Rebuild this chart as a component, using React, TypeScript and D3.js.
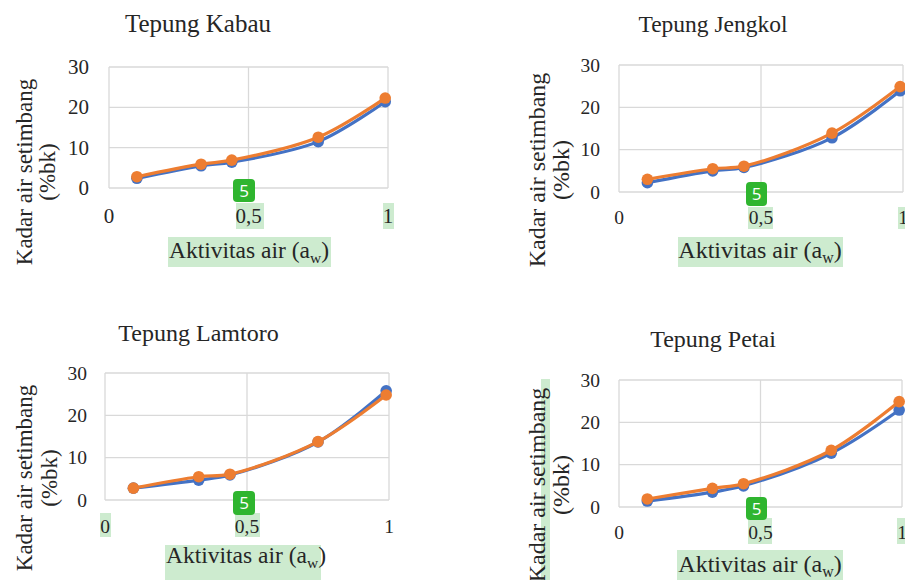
import React from "react";
import * as d3 from "d3";

// ---------- data ----------
const aw = [0.1, 0.33, 0.44, 0.75, 0.99];
const yTicks = [0, 10, 20, 30];
const xTicks = [0, 0.5, 1];
const xTickLabels = ["0", "0,5", "1"];
const titles = ["Tepung Kabau", "Tepung Jengkol", "Tepung Lamtoro", "Tepung Petai"];

const kabauBlue = [2.4, 5.5, 6.4, 11.5, 21.4];
const kabauOrange = [2.8, 5.9, 6.9, 12.6, 22.3];
const jengkolBlue = [2.2, 5.0, 5.8, 12.8, 23.9];
const jengkolOrange = [3.0, 5.5, 6.1, 13.9, 24.9];
const lamtoroBlue = [2.8, 4.7, 5.9, 13.7, 25.8];
const lamtoroOrange = [2.8, 5.5, 6.1, 13.8, 24.8];
const petaiBlue = [1.4, 3.5, 5.0, 12.7, 22.9];
const petaiOrange = [1.9, 4.4, 5.5, 13.4, 24.9];

const xLabel = "Aktivitas air (a";
const xLabelSub = "w";
const yLabel1 = "Kadar air setimbang";
const yLabel2 = "(%bk)";
const badgeText = "5";

// ---------- layout ----------
type Rect = [number, number, number, number];
interface Cfg {
  title: string;
  blue: number[];
  orange: number[];
  x0: number; x1: number; yb: number; yt: number;
  titleX: number; titleY: number; titleSize: number;
  tickSize: number; yTickRight: number; xTickY: number;
  xLabelX: number; xLabelY: number; xLabelSize: number;
  yl1X: number; yl2X: number; ylY: number; ylSize: number;
  badge: Rect;
  highlights: Rect[];
}

const panels: Cfg[] = [
  {
    title: titles[0], blue: kabauBlue, orange: kabauOrange,
    x0: 109, x1: 388, yb: 188, yt: 67,
    titleX: 198, titleY: 32, titleSize: 25,
    tickSize: 21, yTickRight: 89, xTickY: 223,
    xLabelX: 249, xLabelY: 258, xLabelSize: 23.5,
    yl1X: 32, yl2X: 55, ylY: 172, ylSize: 23,
    badge: [233, 179, 22, 23],
    highlights: [[236, 203, 28, 26], [383, 203, 11, 26], [168, 237, 163, 30]],
  },
  {
    title: titles[1], blue: jengkolBlue, orange: jengkolOrange,
    x0: 619, x1: 903, yb: 192, yt: 65,
    titleX: 713, titleY: 32, titleSize: 23.5,
    tickSize: 19.5, yTickRight: 600, xTickY: 224,
    xLabelX: 760, xLabelY: 258, xLabelSize: 24,
    yl1X: 545, yl2X: 569, ylY: 170, ylSize: 24,
    badge: [746, 182, 21, 24],
    highlights: [[748, 207, 25, 22], [898, 207, 7, 22], [678, 237, 165, 30]],
  },
  {
    title: titles[2], blue: lamtoroBlue, orange: lamtoroOrange,
    x0: 105, x1: 389, yb: 500, yt: 373,
    titleX: 198.5, titleY: 341, titleSize: 24,
    tickSize: 19.5, yTickRight: 87, xTickY: 533,
    xLabelX: 246, xLabelY: 563, xLabelSize: 23.5,
    yl1X: 32, yl2X: 57, ylY: 478, ylSize: 23,
    badge: [233, 491, 22, 24],
    highlights: [[100, 513, 11, 24], [235, 513, 25, 24], [165, 545, 156, 35]],
  },
  {
    title: titles[3], blue: petaiBlue, orange: petaiOrange,
    x0: 619, x1: 902, yb: 507, yt: 380,
    titleX: 713, titleY: 347, titleSize: 24,
    tickSize: 19.5, yTickRight: 600, xTickY: 539,
    xLabelX: 760, xLabelY: 572, xLabelSize: 24,
    yl1X: 545, yl2X: 569, ylY: 485, ylSize: 24,
    badge: [746, 497, 21, 23],
    highlights: [[748, 518, 24, 26], [897, 518, 8, 26], [677, 550, 166, 30], [541, 379, 9, 201]],
  },
];

const BLUE = "#4472C4";
const ORANGE = "#ED7D31";
const GRID = "#d9d9d9";
const HL = "#cdebcf";
const TEXT = "#262626";
const FONT = "'Liberation Serif', serif";

function Panel({ c }: { c: Cfg }) {
  const x = d3.scaleLinear().domain([0, 1]).range([c.x0, c.x1]);
  const y = d3.scaleLinear().domain([0, 30]).range([c.yb, c.yt]);
  const line = d3
    .line<number>()
    .x((_, i) => x(aw[i]))
    .y((d) => y(d))
    .curve(d3.curveCatmullRom.alpha(0.5));

  const series = [
    { vals: c.blue, color: BLUE },
    { vals: c.orange, color: ORANGE },
  ];

  return (
    <g>
      {c.highlights.map((h, i) => (
        <rect key={"h" + i} x={h[0]} y={h[1]} width={h[2]} height={h[3]} fill={HL} />
      ))}
      {/* grid */}
      {yTicks.map((t) => (
        <line key={"gy" + t} x1={c.x0} x2={c.x1} y1={y(t)} y2={y(t)} stroke={GRID} strokeWidth={1.3} />
      ))}
      {xTicks.map((t) => (
        <line key={"gx" + t} x1={x(t)} x2={x(t)} y1={c.yt} y2={c.yb} stroke={GRID} strokeWidth={1.3} />
      ))}
      {/* series */}
      {series.map((s, si) => (
        <g key={"s" + si}>
          <path d={line(s.vals) || ""} fill="none" stroke={s.color} strokeWidth={3.2} strokeLinejoin="round" />
          {s.vals.map((v, i) => (
            <circle key={i} cx={x(aw[i])} cy={y(v)} r={5.8} fill={s.color} />
          ))}
        </g>
      ))}
      {/* y ticks */}
      {yTicks.map((t) => (
        <text key={"ty" + t} x={c.yTickRight} y={y(t)} dy="0.34em" textAnchor="end"
          fontFamily={FONT} fontSize={c.tickSize} fill={TEXT}>{t}</text>
      ))}
      {/* x ticks */}
      {xTicks.map((t, i) => (
        <text key={"tx" + t} x={x(t)} y={c.xTickY} textAnchor="middle"
          fontFamily={FONT} fontSize={c.tickSize} fill={TEXT}>{xTickLabels[i]}</text>
      ))}
      {/* title */}
      <text x={c.titleX} y={c.titleY} textAnchor="middle" fontFamily={FONT} fontSize={c.titleSize} fill={TEXT}>
        {c.title}
      </text>
      {/* x label */}
      <text x={c.xLabelX} y={c.xLabelY} textAnchor="middle" fontFamily={FONT} fontSize={c.xLabelSize} fill={TEXT}>
        <tspan>{xLabel}</tspan>
        <tspan fontSize={c.xLabelSize * 0.66} dy={5}>{xLabelSub}</tspan>
        <tspan dy={-5}>)</tspan>
      </text>
      {/* y label */}
      <text transform={`translate(${c.yl1X},${c.ylY}) rotate(-90)`} textAnchor="middle"
        fontFamily={FONT} fontSize={c.ylSize} fill={TEXT}>{yLabel1}</text>
      <text transform={`translate(${c.yl2X},${c.ylY}) rotate(-90)`} textAnchor="middle"
        fontFamily={FONT} fontSize={c.ylSize} fill={TEXT}>{yLabel2}</text>
      {/* badge */}
      <rect x={c.badge[0]} y={c.badge[1]} width={c.badge[2]} height={c.badge[3]} rx={4} fill="#2fb52f" />
      <text x={c.badge[0] + c.badge[2] / 2} y={c.badge[1] + c.badge[3] / 2} dy="0.36em" textAnchor="middle"
        fontFamily="'Open Sans', 'Noto Sans', sans-serif" fontSize={17} fill="#ffffff">{badgeText}</text>
    </g>
  );
}

export default function App() {
  return (
    <svg width={905} height={580} viewBox="0 0 905 580"
      style={{ position: "absolute", left: 0, top: 0, background: "#ffffff" }}>
      <rect x={0} y={0} width={905} height={580} fill="#ffffff" />
      {panels.map((c, i) => (
        <Panel key={i} c={c} />
      ))}
    </svg>
  );
}
